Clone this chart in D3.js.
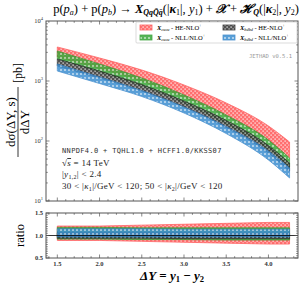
<!DOCTYPE html>
<html>
<head>
<meta charset="utf-8">
<script src="https://cdn.jsdelivr.net/npm/d3@7"></script>
<style>
  body { margin: 0; background: #fff; }
  text { font-family: "Liberation Serif", "DejaVu Serif", serif; }
  .mono { font-family: "DejaVu Sans Mono", "Liberation Mono", monospace; }
</style>
</head>
<body>
<div id="chart"></div>
<script>
// rapidity intervals
const dY = [1.5, 2.0, 2.5, 3.0, 3.5, 4.0, 4.25];

// cross sections [pb], band low / high
const cuHE_lo = [2512, 1616, 1000, 541, 261, 102, 52.1];
const cuHE_hi = [3687, 2417, 1525, 858, 430, 178, 96.2];
const cuNLL_lo = [2327, 1413, 825, 430, 192, 73.6, 36.9];
const cuNLL_hi = [3162, 1920, 1122, 585, 271, 104, 52.1];
const bdHE_lo = [1778, 1122, 681, 369, 168, 63.1, 31.6];
const bdHE_hi = [2327, 1468, 874, 464, 220, 84.1, 43.0];
const bdNLL_lo = [1468, 908, 552, 293, 133, 48.3, 24.2];
const bdNLL_hi = [1920, 1166, 694, 369, 174, 68.1, 35.5];

// ratio bands
const rcuHE_lo = [0.89, 0.89, 0.87, 0.85, 0.83, 0.81, 0.81];
const rcuHE_hi = [1.21, 1.21, 1.23, 1.25, 1.27, 1.29, 1.29];
const rcuNLL_lo = [0.92, 0.92, 0.91, 0.91, 0.90, 0.90, 0.90];
const rcuNLL_hi = [1.18, 1.18, 1.17, 1.17, 1.17, 1.17, 1.17];
const rbdHE_lo = [0.94, 0.94, 0.94, 0.93, 0.93, 0.93, 0.93];
const rbdHE_hi = [1.06, 1.06, 1.06, 1.06, 1.05, 1.05, 1.05];
const rbdNLL_lo = [0.97, 0.97, 0.97, 0.97, 0.97, 0.97, 0.97];
const rbdNLL_hi = [1.15, 1.15, 1.15, 1.14, 1.14, 1.14, 1.14];

const xTicks = [1.5, 2.0, 2.5, 3.0, 3.5, 4.0];
const yTicks = [10, 100, 1000, 10000];
const yTickExp = ["1", "2", "3", "4"];
const rTicks = [0.5, 1.0, 1.5];

const W = 305, H = 283;
const left = 46, right = 298;
const mainTop = 21, mainBot = 201, ratTop = 213, ratBot = 258;

const svg = d3.select("#chart").append("svg").attr("width", W).attr("height", H);

const x = d3.scaleLinear().domain([1.366, 4.35]).range([left, right]);
const y = d3.scaleLog().domain([10, 10000]).range([mainBot, mainTop]);
const yr = d3.scaleLinear().domain([0.5, 1.5]).range([ratBot, ratTop]);

// patterns
const defs = svg.append("defs");
function pattern(id, bg, kind) {
  const p = defs.append("pattern").attr("id", id).attr("patternUnits", "userSpaceOnUse")
    .attr("width", 4).attr("height", 4);
  p.append("rect").attr("width", 4).attr("height", 4).attr("fill", bg);
  if (kind === "dots") {
    p.append("rect").attr("x", 0.5).attr("y", 0.5).attr("width", 1.2).attr("height", 1.2).attr("fill", "#fff");
    p.append("rect").attr("x", 2.5).attr("y", 2.5).attr("width", 1.2).attr("height", 1.2).attr("fill", "#fff");
  } else {
    p.append("rect").attr("x", 0).attr("y", 1.5).attr("width", 2).attr("height", 1).attr("fill", "#fff");
  }
}
pattern("pRed", "#ff4040", "dots");
pattern("pGreen", "#3aa83a", "dash");
pattern("pBlack", "#333", "dots");
pattern("pBlue", "#3d8fd1", "dash");

const series = [
  { lo: cuHE_lo, hi: cuHE_hi, rlo: rcuHE_lo, rhi: rcuHE_hi, fill: "url(#pRed)", line: "#ff3030", op: 0.75 },
  { lo: cuNLL_lo, hi: cuNLL_hi, rlo: rcuNLL_lo, rhi: rcuNLL_hi, fill: "url(#pGreen)", line: "#2a9a2a", op: 0.85 },
  { lo: bdHE_lo, hi: bdHE_hi, rlo: rbdHE_lo, rhi: rbdHE_hi, fill: "url(#pBlack)", line: "#222", op: 0.85 },
  { lo: bdNLL_lo, hi: bdNLL_hi, rlo: rbdNLL_lo, rhi: rbdNLL_hi, fill: "url(#pBlue)", line: "#2f80c8", op: 0.85 }
];

const curve = d3.curveMonotoneX;
svg.append("clipPath").attr("id", "cMain").append("rect")
  .attr("x", left).attr("y", mainTop).attr("width", right - left).attr("height", mainBot - mainTop);
svg.append("clipPath").attr("id", "cRat").append("rect")
  .attr("x", left).attr("y", ratTop).attr("width", right - left).attr("height", ratBot - ratTop);

const gMain = svg.append("g").attr("clip-path", "url(#cMain)");
const gRat = svg.append("g").attr("clip-path", "url(#cRat)");

series.forEach(s => {
  const pts = dY.map((d, i) => ({ x: d, lo: s.lo[i], hi: s.hi[i], rlo: s.rlo[i], rhi: s.rhi[i] }));
  const area = d3.area().curve(curve).x(d => x(d.x)).y0(d => y(d.lo)).y1(d => y(d.hi));
  gMain.append("path").attr("d", area(pts)).attr("fill", s.fill).attr("opacity", s.op)
    .attr("stroke", s.line).attr("stroke-width", 0.8);
  const rarea = d3.area().curve(d3.curveLinear).x(d => x(d.x)).y0(d => yr(d.rlo)).y1(d => yr(d.rhi));
  gRat.append("path").attr("d", rarea(pts)).attr("fill", s.fill).attr("opacity", s.op)
    .attr("stroke", s.line).attr("stroke-width", 0.8);
});

gRat.append("line").attr("x1", left).attr("x2", right).attr("y1", yr(1)).attr("y2", yr(1))
  .attr("stroke", "#000").attr("stroke-width", 0.8);

// frames and ticks
const frameCol = "#555";
function frame(t, b) {
  svg.append("rect").attr("x", left).attr("y", t).attr("width", right - left).attr("height", b - t)
    .attr("fill", "none").attr("stroke", frameCol).attr("stroke-width", 1);
}
frame(mainTop, mainBot);
frame(ratTop, ratBot);

function tick(x1, y1, x2, y2) {
  svg.append("line").attr("x1", x1).attr("y1", y1).attr("x2", x2).attr("y2", y2)
    .attr("stroke", frameCol).attr("stroke-width", 0.7);
}
// x ticks on both panels, top and bottom
const xMinor = d3.range(1.4, 4.351, 0.1);
[[mainTop, mainBot], [ratTop, ratBot]].forEach(([t, b]) => {
  xMinor.forEach(v => {
    const major = xTicks.some(m => Math.abs(m - v) < 1e-6);
    const L = major ? 3.5 : 1.8;
    tick(x(v), b, x(v), b - L);
    tick(x(v), t, x(v), t + L);
  });
});
// log y ticks
for (let e = 1; e < 4; e++) {
  for (let k = 1; k < 10; k++) {
    const v = k * Math.pow(10, e);
    const L = k === 1 ? 3.5 : 1.8;
    tick(left, y(v), left + L, y(v));
    tick(right, y(v), right - L, y(v));
  }
}
// ratio y ticks
d3.range(0.5, 1.501, 0.05).forEach(v => {
  const major = rTicks.some(m => Math.abs(m - v) < 1e-6);
  const L = major ? 3.5 : 1.8;
  tick(left, yr(v), left + L, yr(v));
  tick(right, yr(v), right - L, yr(v));
});

// tick labels
yTicks.forEach((v, i) => {
  const t = svg.append("text").attr("x", left - 3).attr("y", y(v) + 2).attr("text-anchor", "end")
    .attr("font-size", 6.5).attr("fill", "#333");
  t.append("tspan").text("10");
  t.append("tspan").attr("dy", -3).attr("font-size", 4.5).text(yTickExp[i]);
});
rTicks.forEach(v => {
  svg.append("text").attr("x", left - 3).attr("y", yr(v) + 2.2).attr("text-anchor", "end")
    .attr("font-size", 6.5).attr("font-weight", "bold").attr("fill", "#333").text(v.toFixed(1));
});
xTicks.forEach(v => {
  svg.append("text").attr("x", x(v)).attr("y", ratBot + 8).attr("text-anchor", "middle")
    .attr("font-size", 6.5).attr("font-weight", "bold").attr("fill", "#333").text(v.toFixed(1));
});

// rich text helper: parts = [text, shift, {attrs}]
function rich(t, parts, subSize) {
  let cur = 0;
  parts.forEach(([txt, shift, attrs]) => {
    const s = t.append("tspan").text(txt);
    if (shift !== cur) s.attr("dy", shift - cur);
    cur = shift;
    if (shift !== 0) s.attr("font-size", subSize);
    if (attrs) Object.entries(attrs).forEach(([k, v]) => s.attr(k, v));
  });
}
const I = { "font-style": "italic" };
const IB = { "font-style": "italic", "font-weight": "bold" };

// title
const title = svg.append("text").attr("x", 176).attr("y", 12.5).attr("text-anchor", "middle").attr("font-size", 12.5);
rich(title, [
  ["p(", 0], ["p", 0, I], ["a", 2.5, I], [") + p(", 0], ["p", 0, I], ["b", 2.5, I], [") → ", 0],
  ["X", 0, IB], ["QqQ̄q̄", 2.5, IB], ["(|", 0], ["κ", 0, IB], ["1", 2.5], ["|, ", 0], ["y", 0, I], ["1", 2.5],
  [") + ", 0], ["𝒳", 0, IB], [" + ", 0], ["ℋ", 0, IB], ["Q", 2.5, IB], ["(|", 0], ["κ", 0, IB], ["2", 2.5],
  ["|, ", 0], ["y", 0, I], ["2", 2.5], [")", 0]
], 8);

// legend
svg.append("rect").attr("x", 136).attr("y", 22).attr("width", 161).attr("height", 21)
  .attr("fill", "#fff").attr("stroke", "#ccc").attr("stroke-width", 0.7).attr("rx", 1);
const legendItems = [
  { sub: "cuc̄ū", lab: " - HE-NLO", s: series[0], lx: 140, ly: 25 },
  { sub: "bdb̄d̄", lab: " - HE-NLO", s: series[2], lx: 223, ly: 25 },
  { sub: "cuc̄ū", lab: " - NLL/NLO", s: series[1], lx: 140, ly: 35 },
  { sub: "bdb̄d̄", lab: " - NLL/NLO", s: series[3], lx: 223, ly: 35 }
];
legendItems.forEach(it => {
  svg.append("rect").attr("x", it.lx).attr("y", it.ly).attr("width", 12).attr("height", 5)
    .attr("fill", it.s.fill).attr("opacity", it.s.op).attr("stroke", it.s.line).attr("stroke-width", 0.8);
  const t = svg.append("text").attr("x", it.lx + 17).attr("y", it.ly + 4.8).attr("font-size", 6.5);
  rich(t, [["X", 0, IB], [it.sub, 1.5, I], [it.lab, 0], ["+", -2.5]], 4.3);
});

svg.append("text").attr("class", "mono").attr("x", 292).attr("y", 58).attr("text-anchor", "end")
  .attr("font-size", 5.5).attr("fill", "#999").text("JETHAD v0.5.1");

// annotations
const ax = 62;
svg.append("text").attr("class", "mono").attr("x", ax).attr("y", 153).attr("font-size", 7)
  .attr("letter-spacing", 0.35).attr("fill", "#333").text("NNPDF4.0 + TQHL1.0 + HCFF1.0/KKSS07");
const a2 = svg.append("text").attr("x", ax).attr("y", 166).attr("font-size", 9).attr("letter-spacing", 0.3).attr("fill", "#222");
rich(a2, [["√", 0], ["s", 0, { "font-style": "italic", "text-decoration": "overline" }], [" = 14 TeV", 0]], 6);
const a3 = svg.append("text").attr("x", ax).attr("y", 177).attr("font-size", 9).attr("letter-spacing", 0.3).attr("fill", "#222");
rich(a3, [["|", 0], ["y", 0, I], ["1,2", 1.5], ["| < 2.4", 0]], 6);
const a4 = svg.append("text").attr("x", ax).attr("y", 189).attr("font-size", 9).attr("letter-spacing", 0.3).attr("fill", "#222");
rich(a4, [["30 < |", 0], ["κ", 0, I], ["1", 1.5], ["|/GeV < 120;  50 < |", 0], ["κ", 0, I], ["2", 1.5], ["|/GeV < 120", 0]], 6);

// y label (rotated fraction)
const yl = svg.append("g").attr("transform", "translate(18,122) rotate(-90)");
yl.append("text").attr("x", 0).attr("y", -3).attr("text-anchor", "middle").attr("font-size", 13).text("dσ(ΔY, s)");
yl.append("line").attr("x1", -35).attr("x2", 35).attr("y1", 0).attr("y2", 0).attr("stroke", "#000").attr("stroke-width", 0.8);
yl.append("text").attr("x", 0).attr("y", 10.5).attr("text-anchor", "middle").attr("font-size", 13).text("dΔY");
yl.append("text").attr("x", 39).attr("y", 4).attr("font-size", 12).text("[pb]");

svg.append("text").attr("transform", `translate(24,${yr(1)}) rotate(-90)`).attr("text-anchor", "middle")
  .attr("font-size", 12.5).text("ratio");

// x label
const xl = svg.append("text").attr("x", 172).attr("y", 280).attr("text-anchor", "middle")
  .attr("font-size", 13).attr("font-weight", "bold");
rich(xl, [["ΔY", 0, I], [" = ", 0], ["y", 0, I], ["1", 2], [" − ", 0], ["y", 0, I], ["2", 2]], 8.5);
</script>
</body>
</html>
